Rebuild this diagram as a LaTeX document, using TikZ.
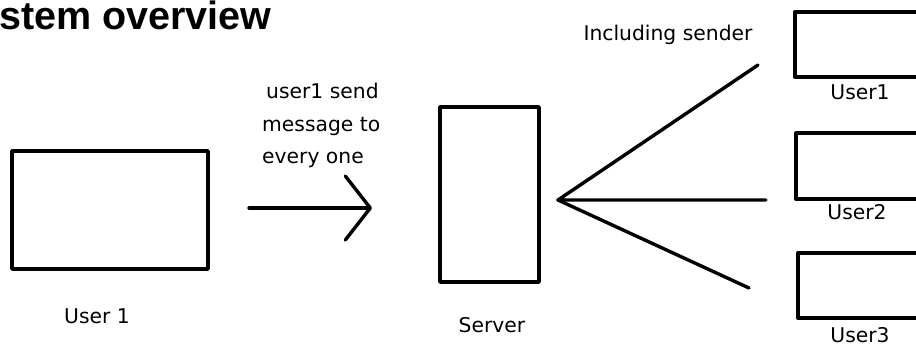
\documentclass[tikz,border=0pt]{standalone}
\usepackage{fontspec}
\setmainfont{DejaVu Sans}
\newfontfamily\titlefont{Liberation Sans}
\usetikzlibrary{arrows.meta}
\begin{document}
\begin{tikzpicture}[x=1pt,y=-1pt,
  box/.style={draw=black, line width=3.4pt, rectangle, inner sep=0pt, line join=round},
  lbl/.style={inner sep=0pt, anchor=base, font=\fontsize{20.3}{24}\selectfont},
  lblw/.style={inner sep=0pt, anchor=base west, font=\fontsize{20.3}{24}\selectfont},
  wire/.style={line width=3.4pt, line cap=round}]
\useasboundingbox (0,0) rectangle (916,351);
\fill[white] (0,0) rectangle (916,351);
\clip (0,0) rectangle (916,351);
% title
\node[inner sep=0pt, anchor=base west, font=\titlefont\bfseries\fontsize{39.5}{44}\selectfont] (title) at (-1,29.5) {stem overview};
% sender
\node[box, minimum width=196pt, minimum height=118pt] (sender) at (110,210) {};
\node[lbl] (senderl) at (97,323) {User 1};
% server
\node[box, minimum width=99pt, minimum height=175pt] (server) at (489.5,194.5) {};
\node[lbl] (serverl) at (492,332) {Server};
% receivers (cut by the right edge)
\node[box, minimum width=140pt, minimum height=65pt] (r1) at (865,44.5) {};
\node[box, minimum width=139pt, minimum height=66pt] (r2) at (865.5,166) {};
\node[box, minimum width=137pt, minimum height=65pt] (r3) at (866.5,285.5) {};
\node[lbl] (r1l) at (860,99) {User1};
\node[lbl] (r2l) at (857,219) {User2};
\node[lbl] (r3l) at (860,342) {User3};
% arrow and its text
\node[lblw] (t1) at (266,98) {user1 send};
\node[lblw] (t2) at (262,131) {message to};
\node[lblw] (t3) at (262,163.5) {every one};
\coordinate (a1) at (249,208);
\coordinate (a2) at (372,208);
\draw[wire, -{Straight Barb[length=25pt, width=64pt, line cap=round, line join=round]}] (a1) -- (a2);
% fan out
\node[lbl] (incl) at (668,40) {Including sender};
\coordinate (hub) at (558,200);
\coordinate (f1) at (758,65);
\coordinate (f2) at (766,200);
\coordinate (f3) at (749,288);
\draw[wire, line join=round] (f1) -- (hub) -- (f2);
\draw[wire] (hub) -- (f3);
\end{tikzpicture}
\end{document}
